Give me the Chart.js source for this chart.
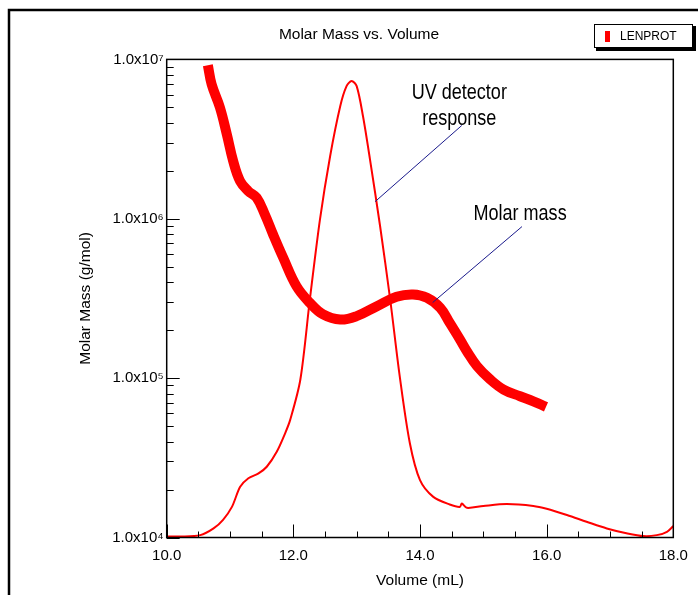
<!DOCTYPE html>
<html>
<head>
<meta charset="utf-8">
<script src="https://cdn.jsdelivr.net/npm/chart.js@4.4.0/dist/chart.umd.min.js"></script>
<style>
  html, body { margin: 0; padding: 0; background: #fff; }
</style>
</head>
<body>
<canvas id="chart" width="698" height="595"></canvas>
<script>
// molar mass trace (LENPROT): elution volume in mL, molar mass in g/mol
const mmVolume = [10.65, 10.71, 10.84, 10.95, 11.05, 11.16, 11.29, 11.42, 11.55, 11.68, 11.84, 12.05, 12.26, 12.47, 12.74, 13.00, 13.32, 13.63, 13.89, 14.11, 14.32, 14.47, 14.63, 14.74, 14.90, 15.11, 15.32, 15.58, 15.79, 15.99];
const mmMass = [9.2e6, 6.97e6, 5.0e6, 3.38e6, 2.30e6, 1.72e6, 1.49e6, 1.355e6, 1.064e6, 7.97e5, 5.69e5, 3.77e5, 2.97e5, 2.51e5, 2.33e5, 2.45e5, 2.83e5, 3.24e5, 3.35e5, 3.19e5, 2.76e5, 2.22e5, 1.75e5, 1.475e5, 1.19e5, 9.8e4, 8.48e4, 7.7e4, 7.16e4, 6.6e4];

// UV detector trace, relative response (own hidden axis)
const uvVolume = [10.0, 10.21, 10.53, 10.74, 10.89, 11.03, 11.16, 11.29, 11.45, 11.58, 11.74, 11.87, 11.95, 12.11, 12.26, 12.42, 12.58, 12.74, 12.84, 12.92, 13.0, 13.10, 13.21, 13.37, 13.53, 13.68, 13.84, 14.0, 14.21, 14.47, 14.63, 14.66, 14.74, 15.0, 15.37, 15.79, 16.0, 16.32, 16.63, 16.95, 17.26, 17.53, 17.74, 17.90, 18.0];
const uvResponse = [0.002, 0.002, 0.005, 0.019, 0.037, 0.064, 0.106, 0.124, 0.134, 0.148, 0.180, 0.218, 0.246, 0.330, 0.497, 0.665, 0.797, 0.902, 0.944, 0.955, 0.944, 0.881, 0.791, 0.651, 0.497, 0.337, 0.197, 0.120, 0.085, 0.069, 0.064, 0.071, 0.062, 0.066, 0.070, 0.066, 0.060, 0.047, 0.033, 0.019, 0.009, 0.003, 0.005, 0.012, 0.024];

const xTickLabels = ['10.0', '12.0', '14.0', '16.0', '18.0'];
const yDecades = [1e4, 1e5, 1e6, 1e7];
const yTickLabels = ['1.0x10⁴', '1.0x10⁵', '1.0x10⁶', '1.0x10⁷'];

const font = 'Liberation Sans, Arial, sans-serif';

// builds 1..9 x 10^n ticks between the decades
function logTicks() {
  let out = [];
  for (let i = 0; i < yDecades.length; i++) {
    out.push({ value: yDecades[i] });
    if (i < yDecades.length - 1) {
      for (let m = 2; m <= 9; m++) out.push({ value: yDecades[i] * m });
    }
  }
  return out;
}

const frame = {
  id: 'frame',
  beforeDraw(chart) {
    const ctx = chart.ctx;
    ctx.save();
    ctx.fillStyle = '#fff';
    ctx.fillRect(0, 0, chart.width, chart.height);
    ctx.strokeStyle = '#000';
    ctx.lineWidth = 2.5;
    ctx.strokeRect(9, 10, 720, 620);
    ctx.restore();
  },
  afterDatasetsDraw(chart) {
    const { ctx, chartArea: a, scales } = chart;
    const x = scales.x, y = scales.y;
    ctx.save();
    ctx.strokeStyle = '#000';
    ctx.lineWidth = 1;
    ctx.beginPath();
    x.ticks.forEach(t => {
      const px = Math.round(x.getPixelForValue(t.value)) + 0.5;
      const len = t.value % 2 === 0 ? 13 : 6;
      ctx.moveTo(px, a.bottom);
      ctx.lineTo(px, a.bottom - len);
    });
    y.ticks.forEach(t => {
      const py = Math.round(y.getPixelForValue(t.value)) + 0.5;
      const major = yDecades.indexOf(t.value) >= 0;
      ctx.moveTo(a.left, py);
      ctx.lineTo(a.left + (major ? 13 : 7), py);
    });
    ctx.stroke();
    ctx.lineWidth = 1.5;
    ctx.strokeRect(a.left, a.top, a.right - a.left, a.bottom - a.top);

    // pointer lines and notes
    const notes = [
      { lines: ['UV detector', 'response'], at: [14.62, 6.2e6], from: [13.29, 1.28e6], to: [14.66, 3.85e6] },
      { lines: ['Molar mass'], at: [15.58, 1.07e6], from: [14.2, 2.98e5], to: [15.61, 8.93e5] }
    ];
    notes.forEach(n => {
      ctx.strokeStyle = '#1a1a8c';
      ctx.lineWidth = 1;
      ctx.beginPath();
      ctx.moveTo(x.getPixelForValue(n.from[0]), y.getPixelForValue(n.from[1]));
      ctx.lineTo(x.getPixelForValue(n.to[0]), y.getPixelForValue(n.to[1]));
      ctx.stroke();
      const cx = x.getPixelForValue(n.at[0]);
      const cy = y.getPixelForValue(n.at[1]);
      ctx.fillStyle = '#000';
      ctx.font = '22px ' + font;
      ctx.textAlign = 'center';
      ctx.textBaseline = 'middle';
      n.lines.forEach((line, i) => {
        ctx.save();
        ctx.translate(cx, cy + i * 26);
        ctx.scale(0.82, 1);
        ctx.fillText(line, 0, 0);
        ctx.restore();
      });
    });

    // legend box
    const label = chart.data.datasets[0].label;
    ctx.fillStyle = '#000';
    ctx.fillRect(596, 26, 100, 25);
    ctx.fillStyle = '#fff';
    ctx.fillRect(594, 24, 99, 24);
    ctx.strokeStyle = '#000';
    ctx.lineWidth = 1;
    ctx.strokeRect(594.5, 24.5, 98, 23);
    ctx.fillStyle = '#ff0000';
    ctx.fillRect(605, 31, 5, 11);
    ctx.fillStyle = '#000';
    ctx.font = '12px ' + font;
    ctx.textAlign = 'left';
    ctx.textBaseline = 'middle';
    ctx.fillText(label, 620, 37);
    ctx.restore();
  }
};

new Chart(document.getElementById('chart'), {
  type: 'line',
  data: {
    datasets: [
      {
        label: 'LENPROT',
        data: mmVolume.map((v, i) => ({ x: v, y: mmMass[i] })),
        borderColor: '#ff0000',
        backgroundColor: '#ff0000',
        borderWidth: 10,
        borderCapStyle: 'butt',
        borderJoinStyle: 'round',
        pointRadius: 0,
        tension: 0.4,
        yAxisID: 'y'
      },
      {
        label: 'UV detector response',
        data: uvVolume.map((v, i) => ({ x: v, y: uvResponse[i] })),
        borderColor: '#ff0000',
        borderWidth: 2,
        pointRadius: 0,
        tension: 0.3,
        yAxisID: 'y2'
      }
    ]
  },
  options: {
    responsive: false,
    animation: false,
    layout: { padding: { left: 44.7, right: 24.7, top: 0, bottom: 0 } },
    plugins: {
      legend: { display: false },
      tooltip: { enabled: false },
      title: {
        display: true,
        text: 'Molar Mass vs. Volume',
        color: '#000',
        font: { family: font, size: 15.5, weight: 'normal' },
        padding: { top: 25.4, bottom: 15.4 }
      }
    },
    scales: {
      x: {
        type: 'linear',
        min: 10,
        max: 18,
        afterFit(s) { s.height = 57.5; },
        grid: { display: false, drawTicks: false },
        border: { display: false },
        ticks: {
          stepSize: 0.5,
          autoSkip: false,
          maxRotation: 0,
          padding: 9.5,
          color: '#000',
          font: { family: font, size: 15 },
          callback(v) { return v % 2 === 0 ? xTickLabels[(v - 10) / 2] : ''; }
        },
        title: {
          display: true,
          text: 'Volume (mL)',
          color: '#000',
          font: { family: font, size: 15.5 },
          padding: { top: 0, bottom: 5.4 }
        }
      },
      y: {
        type: 'logarithmic',
        min: 1e4,
        max: 1e7,
        afterFit(s) { s.width = 122; },
        afterBuildTicks(s) { s.ticks = logTicks(); },
        grid: { display: false, drawTicks: false },
        border: { display: false },
        ticks: {
          autoSkip: false,
          padding: 3,
          color: '#000',
          font: { family: font, size: 15 },
          callback(v) {
            const i = yDecades.indexOf(v);
            return i >= 0 ? yTickLabels[i] : '';
          }
        },
        title: {
          display: true,
          text: 'Molar Mass (g/mol)',
          color: '#000',
          font: { family: font, size: 15.5 },
          padding: { top: 32, bottom: 0 }
        }
      },
      y2: { type: 'linear', min: 0, max: 1, display: false }
    }
  },
  plugins: [frame]
});
</script>
</body>
</html>
